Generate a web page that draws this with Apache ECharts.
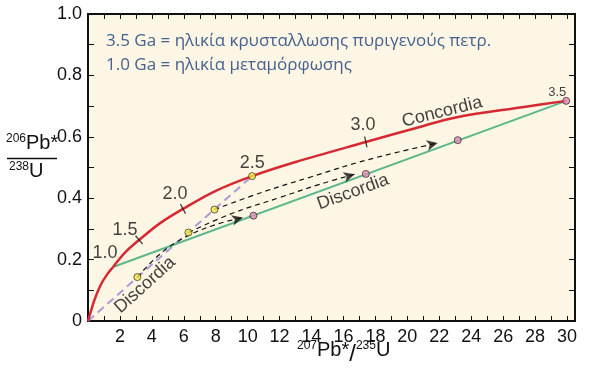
<!DOCTYPE html>
<html><head><meta charset="utf-8">
<script src="https://cdn.jsdelivr.net/npm/echarts@6/dist/echarts.min.js"></script>
<style>html,body{margin:0;padding:0;background:#fff}#c{width:593px;height:374px}</style>
</head><body><div id="c"></div>
<script>
// ---- data ----
const concordiaX = [0, 0.2, 0.4, 0.8, 1.2, 1.57, 2.3, 3.2, 4.5, 5.95, 8.0, 10.28, 13.0, 17.4, 20.5, 23.1, 27.3, 29.95];
const concordiaY = [0, 0.035, 0.068, 0.118, 0.152, 0.176, 0.222, 0.264, 0.318, 0.365, 0.424, 0.472, 0.518, 0.583, 0.628, 0.664, 0.697, 0.717];
const discordiaUpperX = [1.57, 29.95];
const discordiaUpperY = [0.176, 0.717];
const discordiaLowerX = [0, 10.28];
const discordiaLowerY = [0, 0.472];
const yellowX = [3.09, 6.29, 7.92, 10.28];
const yellowY = [0.143, 0.288, 0.363, 0.472];
const pinkX = [10.36, 17.4, 23.16, 29.95];
const pinkY = [0.343, 0.479, 0.589, 0.717];
const arrowAX = [3.09, 4.6, 6.2, 8.0, 9.7];
const arrowAY = [0.143, 0.222, 0.276, 0.314, 0.337];
const arrowBX = [6.29, 9.0, 12.0, 14.5, 16.7];
const arrowBY = [0.288, 0.350, 0.402, 0.445, 0.478];
const arrowCX = [7.92, 11.0, 14.0, 17.5, 21.9];
const arrowCY = [0.363, 0.421, 0.470, 0.525, 0.580];
const ageTickX = [3.2, 5.95, 17.4];
const ageTickY = [0.264, 0.365, 0.583];
const xTickLabels = [2,4,6,8,10,12,14,16,18,20,22,24,26,28,30];
const yTickLabels = ['0','0.2','0.4','0.6','0.8','1.0'];
const noteLines = ['3.5 Ga = ηλικία κρυσταλλωσης πυριγενούς πετρ.', '1.0 Ga = ηλικία μεταμόρφωσης'];
// annotations: text anchored at data coordinates
const annotations = [
  {t:'1.0', x:1.07, y:0.221, r:0, s:18},
  {t:'1.5', x:2.32, y:0.296, r:0, s:18},
  {t:'2.0', x:5.45, y:0.414, r:0, s:18},
  {t:'2.5', x:10.28, y:0.515, r:0, s:18},
  {t:'3.0', x:17.23, y:0.638, r:0, s:18},
  {t:'3.5', x:29.39, y:0.743, r:0, s:13},
  {t:'Concordia', x:22.18, y:0.681, r:14, s:18},
  {t:'Discordia', x:16.6, y:0.42, r:20, s:18},
  {t:'Discordia', x:3.57, y:0.117, r:42, s:18}
];
const ageTickRot = [40, 28, 12];

const zip = (a,b) => a.map((v,i)=>[v,b[i]]);
const FONT = 'Liberation Sans, Arial, sans-serif';

const chart = echarts.init(document.getElementById('c'), null, {renderer:'canvas'});

function arrowSeries(X, Y) {
  return {type:'line', data: zip(X,Y), smooth:0.4, symbol:'none', z:4,
    lineStyle:{color:'#111', width:1.2, type:[5,4]}, xAxisIndex:0, yAxisIndex:0};
}
const supStyle = {fontSize:12, fontFamily:FONT, fill:'#111', padding:[0,0,8,0]};
const bigStyle = {fontSize:20, fontFamily:FONT, fill:'#111'};

const option = {
  animation:false,
  backgroundColor:'#ffffff',
  grid:{left:88, right:18, top:14, bottom:53, show:true, backgroundColor:'#fdf6e5', borderColor:'#111', borderWidth:2},
  xAxis:[
    {type:'value', min:0, max:30.5, interval:1, position:'bottom',
     axisLine:{show:true, onZero:false, lineStyle:{color:'#111', width:2}},
     axisTick:{show:true, inside:true, length:5, lineStyle:{color:'#111', width:1}},
     axisLabel:{margin:7, fontFamily:FONT, fontSize:18, color:'#111',
       formatter:v=> xTickLabels.indexOf(Math.round(v))>=0 && Math.abs(v-Math.round(v))<1e-6 ? String(Math.round(v)) : ''},
     splitLine:{show:false}},
    {type:'value', min:0, max:30.5, interval:1, position:'top',
     axisLine:{show:true, onZero:false, lineStyle:{color:'#111', width:2}},
     axisTick:{show:true, inside:true, length:5, lineStyle:{color:'#111', width:1}},
     axisLabel:{show:false}, splitLine:{show:false}}
  ],
  yAxis:[
    {type:'value', min:0, max:1, interval:0.1, position:'left',
     axisLine:{show:true, onZero:false, lineStyle:{color:'#111', width:2}},
     axisTick:{show:true, inside:true, length:6, lineStyle:{color:'#111', width:1}},
     axisLabel:{margin:6, fontFamily:FONT, fontSize:18, color:'#111',
       formatter:v=>{const r=Math.round(v*10); return r%2===0 ? yTickLabels[r/2] : '';}},
     splitLine:{show:false}},
    {type:'value', min:0, max:1, interval:0.1, position:'right',
     axisLine:{show:true, onZero:false, lineStyle:{color:'#111', width:2}},
     axisTick:{show:true, inside:true, length:6, lineStyle:{color:'#111', width:1}},
     axisLabel:{show:false}, splitLine:{show:false}}
  ],
  graphic:[
    {type:'text', left:106, top:33, style:{text:noteLines[0], fill:'#44618f', font:'17px "Open Sans", "Noto Sans", sans-serif'}},
    {type:'text', left:106, top:57, style:{text:noteLines[1], fill:'#44618f', font:'17px "Open Sans", "Noto Sans", sans-serif'}},
    // y-axis label (fraction)
    {type:'text', left:6, top:133, style:{text:'{s|206}{b|Pb*}', rich:{s:supStyle, b:bigStyle}}},
    {type:'line', shape:{x1:7, y1:158.5, x2:57, y2:158.5}, style:{stroke:'#111', lineWidth:1.5}},
    {type:'text', left:9, top:161, style:{text:'{s|238}{b|U}', rich:{s:supStyle, b:bigStyle}}},
    // x-axis label
    {type:'text', left:297, top:340, style:{text:'{s|207}{b|Pb*}{sl|/}{s|235}{b|U}', rich:{s:supStyle, b:bigStyle, sl:{fontSize:24, fontFamily:FONT, fill:'#111', padding:[8,0,0,0]}}}}
  ],
  series:[
    {type:'line', data:zip(discordiaLowerX, discordiaLowerY), symbol:'none', z:2,
     lineStyle:{color:'#a99bd3', width:2, type:[8,5]}},
    {type:'line', data:zip(discordiaUpperX, discordiaUpperY), symbol:'none', z:3,
     lineStyle:{color:'#5cb88a', width:2}},
    {type:'line', data:zip(concordiaX, concordiaY), symbol:'none', smooth:0.35, z:3,
     lineStyle:{color:'#d62a33', width:2.5}},
    arrowSeries(arrowAX, arrowAY),
    arrowSeries(arrowBX, arrowBY),
    arrowSeries(arrowCX, arrowCY),
    {id:'heads', type:'scatter', data:[], symbol:'arrow', symbolSize:[8,11], z:6, itemStyle:{color:'#111'}},
    {type:'scatter', data:ageTickX.map((x,i)=>({value:[x,ageTickY[i]], symbolRotate:ageTickRot[i]})), symbol:'rect', symbolSize:[1.3,11], z:5, itemStyle:{color:'#111'}},
    {type:'scatter', data:zip(yellowX, yellowY), symbol:'circle', symbolSize:7, z:8,
     itemStyle:{color:'#f2e650', borderColor:'#4a3f1a', borderWidth:1}},
    {type:'scatter', data:zip(pinkX, pinkY), symbol:'circle', symbolSize:7, z:8,
     itemStyle:{color:'#d98db3', borderColor:'#4a2a3a', borderWidth:1}},
    {type:'scatter', symbolSize:0, z:9, silent:true,
     data:annotations.map(a=>({value:[a.x,a.y], label:{show:true, position:'inside', formatter:a.t, rotate:a.r, fontSize:a.s, fontFamily:FONT, color:'#111'}}))}
  ]
};
chart.setOption(option);

// arrowheads oriented along the last segment of each dashed path (pixel space)
const heads = [[arrowAX,arrowAY],[arrowBX,arrowBY],[arrowCX,arrowCY]].map(([X,Y])=>{
  const n = X.length;
  const p1 = chart.convertToPixel({gridIndex:0}, [X[n-2], Y[n-2]]);
  const p2 = chart.convertToPixel({gridIndex:0}, [X[n-1], Y[n-1]]);
  const ang = Math.atan2(-(p2[1]-p1[1]), p2[0]-p1[0]) * 180/Math.PI;
  return {value:[X[n-1], Y[n-1]], symbolRotate: ang - 90};
});
chart.setOption({series:[{id:'heads', data:heads}]});
</script></body></html>
